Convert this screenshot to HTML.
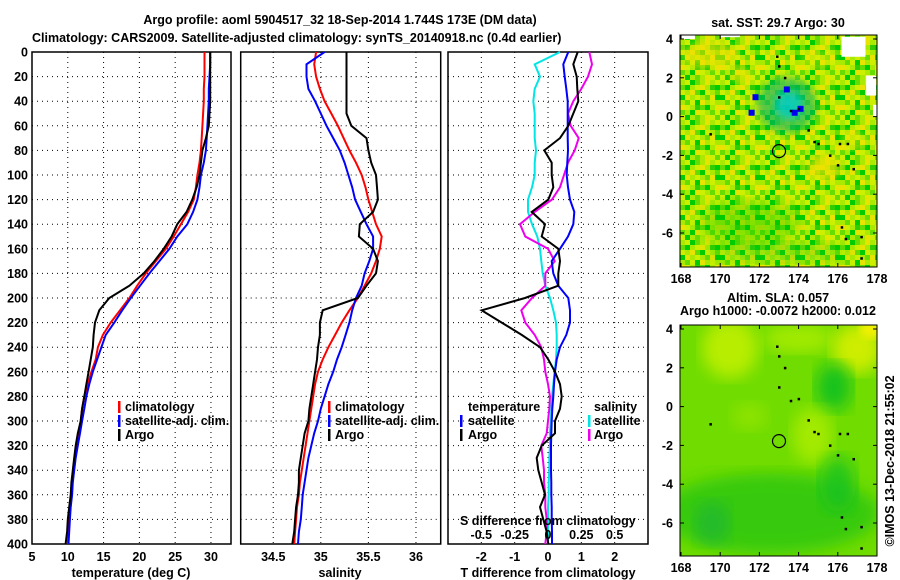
<!DOCTYPE html>
<html><head><meta charset="utf-8"><style>
html,body{margin:0;padding:0;background:#fff;}
svg{display:block;}
text{font-family:"Liberation Sans",sans-serif;font-weight:bold;font-size:12.5px;fill:#000;}
</style></head><body>
<svg id="fig" width="900" height="580" viewBox="0 0 900 580">
<defs>
<pattern id="sstnoise" width="40" height="40" patternUnits="userSpaceOnUse"></pattern>
<filter id="blur4"><feGaussianBlur stdDeviation="4"/></filter>
<filter id="blur8"><feGaussianBlur stdDeviation="8"/></filter>
<clipPath id="clip1"><rect x="680" y="35" width="197" height="232"/></clipPath>
<clipPath id="clip2"><rect x="680" y="325" width="197" height="231"/></clipPath>
</defs>
<text x="340" y="24" text-anchor="middle" font-size="14">Argo profile: aoml 5904517_32 18-Sep-2014 1.744S 173E (DM data)</text>
<text x="32" y="42" font-size="14">Climatology: CARS2009. Satellite-adjusted climatology: synTS_20140918.nc (0.4d earlier)</text>
<g id="panels"></g>
<g id="maps"></g>
<text transform="translate(894,461) rotate(-90)" text-anchor="middle" font-weight="normal" font-size="13">©IMOS 13-Dec-2018 21:55:02</text>
</svg>
<script>
const depths = [0,10,20,30,40,50,60,70,80,90,100,110,120,130,140,150,160,170,180,190,200,210,220,230,240,250,260,270,280,290,300,310,320,330,340,350,360,370,380,390,400];
const argoT = [29.9,29.9,29.9,29.9,29.9,29.8,29.7,29.3,28.8,28.6,28.4,28.0,27.4,26.6,25.3,24.5,23.4,22.1,20.6,18.6,15.8,14.4,13.8,13.6,13.5,13.2,12.9,12.6,12.3,12.0,11.8,11.4,11.1,10.9,10.7,10.5,10.4,10.2,10.0,9.9,9.7];
const climT = [29.1,29.1,29.1,29.0,29.0,28.9,28.8,28.7,28.6,28.4,28.1,27.9,27.6,26.8,25.8,24.8,23.7,22.3,20.9,19.7,18.6,17.3,16.0,14.9,14.2,13.9,13.3,12.8,12.3,12.0,11.8,11.5,11.3,11.0,10.8,10.6,10.5,10.3,10.2,10.1,10.0];
const satT = [29.9,29.9,29.8,29.7,29.7,29.6,29.5,29.4,29.3,29.0,28.6,28.4,28.1,27.5,26.7,25.3,24.2,22.8,21.4,20.1,18.8,17.6,16.5,15.3,14.7,14.1,13.5,13.0,12.6,12.3,12.0,11.7,11.4,11.1,10.9,10.7,10.6,10.4,10.3,10.2,10.1];
const argoS = [35.27,35.27,35.27,35.27,35.27,35.27,35.32,35.48,35.50,35.53,35.58,35.59,35.60,35.55,35.41,35.40,35.55,35.60,35.58,35.48,35.39,35.02,34.99,34.99,34.97,34.96,34.94,34.92,34.90,34.88,34.87,34.83,34.81,34.79,34.77,34.77,34.76,34.74,34.73,34.72,34.70];
const climS = [34.95,34.93,34.95,34.99,35.04,35.11,35.18,35.24,35.30,35.37,35.43,35.47,35.50,35.54,35.58,35.64,35.62,35.58,35.53,35.46,35.39,35.30,35.22,35.15,35.08,35.02,34.97,34.94,34.92,34.90,34.88,34.86,34.84,34.82,34.80,34.78,34.77,34.75,34.74,34.73,34.72];
const satS = [35.04,34.85,34.85,34.87,34.94,35.00,35.06,35.13,35.20,35.25,35.29,35.33,35.36,35.42,35.48,35.55,35.55,35.51,35.46,35.43,35.37,35.33,35.30,35.26,35.22,35.17,35.13,35.08,35.04,35.00,34.97,34.93,34.90,34.87,34.85,34.83,34.81,34.80,34.79,34.77,34.76];
const dTsat = [0.61,0.46,0.5,0.55,0.59,0.59,0.59,0.59,0.6,0.58,0.56,0.6,0.66,0.79,0.76,0.6,0.36,0.11,0.16,0.31,0.61,0.66,0.66,0.55,0.36,0.26,0.21,0.18,0.16,0.13,0.11,0.1,0.09,0.09,0.09,0.1,0.1,0.11,0.11,0.12,0.12];
const dTargo = [0.89,0.76,0.86,0.88,0.91,0.76,0.61,0.36,-0.11,0.11,0.11,0.16,0.01,-0.49,-0.09,-0.19,0.31,0.36,0.31,0.31,-0.69,-1.99,-1.39,-0.79,-0.24,0.01,0.21,0.36,0.41,0.36,0.21,0.21,-0.19,-0.34,-0.29,-0.19,-0.09,-0.24,-0.14,-0.04,0.01];
const dSsat = [0.09,-0.1,-0.06,-0.1,-0.11,-0.1,-0.1,-0.1,-0.09,-0.1,-0.1,-0.12,-0.15,-0.15,-0.12,-0.08,-0.06,-0.05,-0.04,-0.02,0.015,0.04,0.06,0.065,0.065,0.06,0.05,0.04,0.03,0.025,0.02,0.015,0.015,0.01,0.01,0.005,0.005,0,0,0,0];
const dSargo = [0.31,0.33,0.3,0.25,0.19,0.15,0.17,0.23,0.2,0.15,0.12,0.09,0.03,-0.1,-0.21,-0.17,0,0.05,-0.02,-0.02,-0.12,-0.2,-0.17,-0.1,-0.05,-0.03,-0.02,0,0.015,0.01,0,-0.01,-0.05,-0.04,-0.03,-0.03,-0.02,-0.02,-0.01,-0.01,-0.02];
const depthTicks = [0,20,40,60,80,100,120,140,160,180,200,220,240,260,280,300,320,340,360,380,400];
const tTicks = [5,10,15,20,25,30];
const sTicks = [34.5,35,35.5,36];
const dTTicks = [-2,-1,0,1,2];
const dSTicks = [-0.5,-0.25,0,0.25,0.5];
const lonTicks = [168,170,172,174,176,178];
const latTicks = [4,2,0,-2,-4,-6];

const NS='http://www.w3.org/2000/svg';
const TOP=52, BOT=544;
const yD = d => TOP + (d/400)*(BOT-TOP);
function lin(d0,d1,r0,r1){return v => r0 + (v-d0)/(d1-d0)*(r1-r0);}
const xT = lin(5,32.8,32,231);
const xS = lin(34.158,36.26,240.7,440.7);
const xdT = lin(-3,3,448,648);
const xdS = v => xdT(4*v);
function mk(tag,attrs,parent){const e=document.createElementNS(NS,tag);for(const k in attrs)e.setAttribute(k,attrs[k]);parent.appendChild(e);return e;}

// texture tile for the SST map (decorative mottling)
(function(){
  const pat=document.getElementById('sstnoise');
  const pal={a:'#00cc00',b:'#66dd00',c:'#aaea00',d:'#ccf000',e:'#e8e400',f:'#33cc00'};
  const tile=['cdabcecd','bacdecfa','dcebadcb','aecdcbea','cbdaecdc','edcfbace','bcaedcbd','dacbcedb'];
  tile.forEach((row,j)=>row.split('').forEach((ch,i)=>mk('rect',{x:i*5,y:j*5,width:5,height:5,fill:pal[ch]},pat)));
})();

const P=document.getElementById('panels');
function panel(name,x0,x1,vgrid,xf){
  const g=mk('g',{},P);
  
  
  depthTicks.forEach(d=>{ if(d>0&&d<400){const l=mk('line',{x1:x0,x2:x1,y1:yD(d),y2:yD(d),stroke:'#000','stroke-width':1,'stroke-dasharray':'1 4'},g);
    
    }});
  vgrid.forEach(v=>{const l=mk('line',{x1:xf(v),x2:xf(v),y1:TOP,y2:BOT,stroke:'#000','stroke-width':1,'stroke-dasharray':'1 4'},g);
    
    });
  const r=mk('rect',{x:x0,y:TOP,width:x1-x0,height:BOT-TOP,fill:'none',stroke:'#000','stroke-width':1.5},g);
  
  
  return g;
}
function series(g,vals,xf,color,name,w){
  const pts=vals.map((v,i)=>xf(v).toFixed(1)+','+yD(depths[i]).toFixed(1)).join(' ');
  const pl=mk('polyline',{points:pts,fill:'none',stroke:color,'stroke-width':w||2,'stroke-linejoin':'miter'},g);
  
  
}
function txt(g,x,y,s,name,anchor,color){
  const t=mk('text',{x:x,y:y,'text-anchor':anchor||'start'},g);
  if(color)t.setAttribute('fill',color);
  t.textContent=s;
  
  
  return t;
}
function legendBar(g,x,y,color){
  const r=mk('rect',{x:x,y:y-10,width:2.5,height:12,fill:color},g);
  
  
}

const g1=panel('temperature-panel',32,231,[10,15,20,25,30],xT);
series(g1,climT,xT,'#ff0000','climatology-temperature-line');
series(g1,satT,xT,'#0000ff','satellite-temperature-line');
series(g1,argoT,xT,'#000000','argo-temperature-line');
depthTicks.forEach(d=>txt(g1,28,yD(d)+4.5,String(d),'depth-tick-label','end'));
tTicks.forEach(v=>txt(g1,xT(v),561,String(v),'temperature-tick-label','middle'));
txt(g1,131,577,'temperature (deg C)','x-axis-title-temperature','middle');
[['climatology','#ff0000'],['satellite-adj. clim.','#0000ff'],['Argo','#000']].forEach((e,i)=>{legendBar(g1,118,411+i*14,e[1]);txt(g1,125,411+i*14,e[0],'legend-entry');});

const g2=panel('salinity-panel',240.7,440.7,sTicks,xS);
series(g2,climS,xS,'#ff0000','climatology-salinity-line');
series(g2,satS,xS,'#0000ff','satellite-salinity-line');
series(g2,argoS,xS,'#000000','argo-salinity-line');
sTicks.forEach(v=>txt(g2,xS(v),561,String(v),'salinity-tick-label','middle'));
txt(g2,340,577,'salinity','x-axis-title-salinity','middle');
[['climatology','#ff0000'],['satellite-adj. clim.','#0000ff'],['Argo','#000']].forEach((e,i)=>{legendBar(g2,328,411+i*14,e[1]);txt(g2,335,411+i*14,e[0],'legend-entry');});

const g3=panel('difference-panel',448,648,dTTicks,xdT);
series(g3,dSsat,xdS,'#00e5e5','salinity-satellite-diff-line');
series(g3,dSargo,xdS,'#ee00ee','salinity-argo-diff-line');
series(g3,dTsat,xdT,'#0000ff','temperature-satellite-diff-line');
series(g3,dTargo,xdT,'#000000','temperature-argo-diff-line');
dTTicks.forEach(v=>txt(g3,xdT(v),561,String(v),'t-diff-tick-label','middle'));
txt(g3,548,577,'T difference from climatology','x-axis-title-t-diff','middle');
txt(g3,460,525,'S difference from climatology','s-diff-axis-title');
dSTicks.forEach(v=>txt(g3,xdS(v),539,String(v),'s-diff-tick-label','middle'));
txt(g3,468,411,'temperature','legend-title-temperature');
legendBar(g3,460,425,'#0000ff');txt(g3,468,425,'satellite','legend-entry');
legendBar(g3,460,439,'#000');txt(g3,468,439,'Argo','legend-entry');
txt(g3,594,411,'salinity','legend-title-salinity');
legendBar(g3,588,425,'#00e5e5');txt(g3,594,425,'satellite','legend-entry');
legendBar(g3,588,439,'#ee00ee');txt(g3,594,439,'Argo','legend-entry');

const M=document.getElementById('maps');
const lonX = l => 681 + (l-168)*19.6;
function mapPanel(name,top,bottom,lat4y,clip,title,titleY,draw){
  const latY = lat => lat4y + (4-lat)*19.4;
  const g=mk('g',{},M);
  
  
  const inner=mk('g',{'clip-path':'url(#'+clip+')'},g);
  draw(inner,latY);
  const c=mk('circle',{cx:lonX(173),cy:latY(-1.78),r:6.5,fill:'none',stroke:'#000','stroke-width':1.2},g);
  
  
  const fr=mk('rect',{x:680,y:top,width:197,height:bottom-top,fill:'none',stroke:'#000','stroke-width':1},g);
  
  
  latTicks.forEach(v=>{txt(g,673,latY(v)+4.5,String(v),'latitude-tick-label','end');
    mk('line',{x1:680,x2:684,y1:latY(v),y2:latY(v),stroke:'#000'},g);mk('line',{x1:873,x2:877,y1:latY(v),y2:latY(v),stroke:'#000'},g);});
  lonTicks.forEach(v=>{txt(g,lonX(v),bottom+16,String(v),'longitude-tick-label','middle');
    mk('line',{x1:lonX(v),x2:lonX(v),y1:bottom,y2:bottom-4,stroke:'#000'},g);mk('line',{x1:lonX(v),x2:lonX(v),y1:top,y2:top+4,stroke:'#000'},g);});
  title.forEach((t,i)=>txt(g,778,titleY+i*13,t,'map-title','middle'));
  [[172.9,3.1],[173,2.6],[173.3,2],[173,1],[173.6,0.3],[174,0.4],[174.5,-0.7],[174.8,-1.3],[175,-1.4],[175.6,-2],[176.1,-1.4],[176.5,-1.4],[176,-2.5],[176.8,-2.7],[176.2,-5.7],[176.4,-6.3],[177.2,-6.2],[177.2,-7.3],[169.5,-0.9]].forEach(p=>{
    const d=mk('rect',{x:lonX(p[0])-1,y:latY(p[1])-1,width:2.5,height:2.5,fill:'#000'},g);
    
    });
}
function blob(g,cx,cy,rx,ry,color,filt,op){const e=mk('ellipse',{cx:cx,cy:cy,rx:rx,ry:ry,fill:color,filter:'url(#'+filt+')','fill-opacity':op||1},g);
  
  }

mapPanel('sst-map',35,267,39,'clip1',['sat. SST: 29.7 Argo: 30'],27,(g,latY)=>{
  const b=mk('rect',{x:680,y:35,width:197,height:232,fill:'url(#sstnoise)'},g);
  
  
  blob(g,lonX(169.5),latY(3.2),28,14,'#f0e000','blur4',0.6);
  blob(g,lonX(171),latY(2.2),12,8,'#f0e000','blur4',0.5);
  blob(g,lonX(175.3),latY(-2.6),18,12,'#f0e000','blur4',0.7);
  blob(g,lonX(176.8),latY(-1.2),12,10,'#e8e800','blur4',0.5);
  blob(g,lonX(175),latY(3),18,10,'#e8e800','blur4',0.4);
  blob(g,lonX(173.4),latY(0.6),30,28,'#00b070','blur4',0.6);
  blob(g,lonX(173.5),latY(0.6),14,14,'#00cccc','blur4',0.8);
  blob(g,lonX(171.5),latY(-5.5),50,22,'#00c800','blur8',0.35);
  blob(g,lonX(173),latY(-7),70,10,'#10c810','blur8',0.35);
  [[176.8,3.6,12,10],[177.7,1.6,5,10],[168.3,4.2,8,4],[170.5,4.3,10,4],[178,0.3,4,6]].forEach(w=>{
    const r=mk('rect',{x:lonX(w[0])-w[2],y:latY(w[1])-w[3],width:w[2]*2,height:w[3]*2,fill:'#fff'},g);
    
    });
  [[171.8,1],[173.4,1.4],[171.6,0.2],[173.8,0.2],[174.1,0.4]].forEach(p=>{
    const r=mk('rect',{x:lonX(p[0])-3,y:latY(p[1])-3,width:6,height:6,fill:'#0000ee'},g);
    
    });
});
mapPanel('sla-map',325,556,329,'clip2',['Altim. SLA: 0.057','Argo h1000: -0.0072 h2000: 0.012'],302,(g,latY)=>{
  const b=mk('rect',{x:680,y:325,width:197,height:231,fill:'#70dc00'},g);
  
  
  blob(g,lonX(170.5),latY(3),28,30,'#c0f000','blur8',0.9);
  blob(g,lonX(174),latY(3.5),35,14,'#b0ee00','blur8',0.8);
  blob(g,lonX(177),latY(3),25,25,'#d8f000','blur8',0.9);
  blob(g,lonX(177.7),latY(4),12,10,'#f0f000','blur4',1);
  blob(g,lonX(175.8),latY(1),18,24,'#10c020','blur8',0.9);
  blob(g,lonX(174.7),latY(-1.5),20,28,'#b0ee00','blur8',0.8);
  blob(g,lonX(171.5),latY(-0.5),18,14,'#a0e800','blur8',0.6);
  blob(g,lonX(172.5),latY(-5.5),110,40,'#30c810','blur8',0.9);
  blob(g,lonX(169.6),latY(-6),18,22,'#20b830','blur8',0.85);
  blob(g,lonX(176),latY(-4),18,28,'#10c020','blur8',0.75);
});
</script>
</body></html>
